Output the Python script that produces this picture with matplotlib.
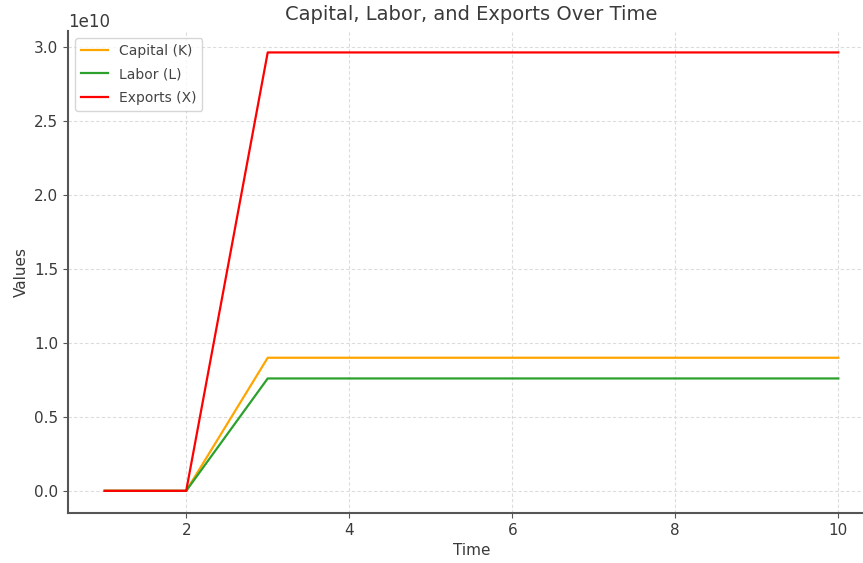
import matplotlib.pyplot as plt

# Data
time = [1, 2, 3, 4, 5, 6, 7, 8, 9, 10]
capital = [0, 0, 0.90e10, 0.90e10, 0.90e10, 0.90e10, 0.90e10, 0.90e10, 0.90e10, 0.90e10]
labor = [0, 0, 0.76e10, 0.76e10, 0.76e10, 0.76e10, 0.76e10, 0.76e10, 0.76e10, 0.76e10]
exports = [0, 0, 2.965e10, 2.965e10, 2.965e10, 2.965e10, 2.965e10, 2.965e10, 2.965e10, 2.965e10]

text_col = "#3a3a3a"
plt.rcParams["text.color"] = text_col
plt.rcParams["axes.labelcolor"] = text_col
plt.rcParams["xtick.color"] = text_col
plt.rcParams["ytick.color"] = text_col

fig = plt.figure(figsize=(8.63, 5.63), dpi=100)
ax = fig.add_axes([68 / 863, 1 - 513 / 563, (875 - 68) / 863, (513 - 31) / 563])

ax.plot(time, capital, label="Capital (K)", color="orange", linewidth=1.6)
ax.plot(time, labor, label="Labor (L)", color="#2ca02c", linewidth=1.6)
ax.plot(time, exports, label="Exports (X)", color="red", linewidth=1.6)

ax.set_title("Capital, Labor, and Exports Over Time", fontsize=14, color=text_col, pad=8)
ax.set_xlabel("Time", fontsize=11)
ax.set_ylabel("Values", fontsize=11)
ax.set_xlim(0.55, 10.45)
ax.set_ylim(-0.15e10, 3.11e10)
ax.set_yticks([0, 0.5e10, 1.0e10, 1.5e10, 2.0e10, 2.5e10, 3.0e10])
ax.tick_params(labelsize=11, color="#555555")
ax.yaxis.get_offset_text().set_fontsize(12)

ax.grid(True, linestyle=(0, (3, 2)), color="#dcdcdc", linewidth=0.8)
for s in ["top", "right"]:
    ax.spines[s].set_visible(False)
for s in ["left", "bottom"]:
    ax.spines[s].set_color("#555555")
    ax.spines[s].set_linewidth(1.5)

leg = ax.legend(loc="upper left", fontsize=10, framealpha=0.8, labelspacing=0.7)
for t in leg.get_texts():
    t.set_color("#444444")

fig.savefig("out.png", dpi=100)
